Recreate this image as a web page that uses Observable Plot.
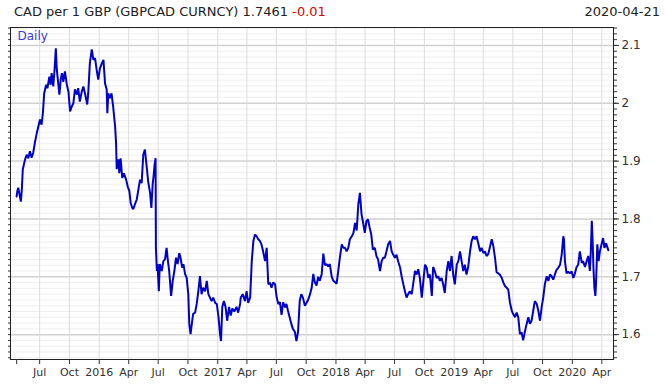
<!DOCTYPE html>
<html><head><meta charset="utf-8">
<script src="https://cdn.jsdelivr.net/npm/d3@7"></script>
<script src="https://cdn.jsdelivr.net/npm/@observablehq/plot@0.6"></script>
<style>
body{margin:0;background:#fff;}
#wrap{position:relative;width:665px;height:385px;font-family:"DejaVu Sans",sans-serif;}
#title{position:absolute;left:14px;top:4px;font-size:13px;color:#222;white-space:nowrap;}
#date{position:absolute;right:5px;top:4px;font-size:13px;color:#222;}
#chart{position:absolute;left:0;top:0;}
</style></head><body>
<div id="wrap"><div id="chart"></div>
<div id="title">CAD per 1 GBP (GBPCAD CURNCY) 1.7461 <span style="color:#e00000">-0.01</span></div>
<div id="date">2020-04-21</div></div>
<script>
const dates = [
"2015-04-21","2015-04-23","2015-04-26","2015-05-04","2015-05-07","2015-05-10","2015-05-17","2015-05-22","2015-05-27","2015-06-01","2015-06-06","2015-06-11","2015-06-17","2015-06-22","2015-06-27",
"2015-07-02","2015-07-07","2015-07-11","2015-07-15","2015-07-21","2015-07-25","2015-07-31","2015-08-04","2015-08-07","2015-08-12","2015-08-16","2015-08-20","2015-08-23","2015-08-31",
"2015-09-04","2015-09-08","2015-09-12","2015-09-17","2015-09-23","2015-09-28","2015-10-03","2015-10-08","2015-10-13","2015-10-18","2015-10-24","2015-10-28",
"2015-11-02","2015-11-08","2015-11-13","2015-11-18","2015-11-25","2015-11-28","2015-12-03","2015-12-09","2015-12-14","2015-12-19","2015-12-24","2015-12-29",
"2016-01-03","2016-01-09","2016-01-14","2016-01-19","2016-01-24","2016-01-26","2016-01-29","2016-02-03","2016-02-08","2016-02-13","2016-02-19","2016-02-22","2016-02-24","2016-02-29",
"2016-03-03","2016-03-07","2016-03-12","2016-03-17","2016-03-24","2016-03-29","2016-04-03","2016-04-07","2016-04-12","2016-04-15","2016-04-20","2016-04-26",
"2016-05-01","2016-05-06","2016-05-11","2016-05-16","2016-05-21","2016-05-27","2016-05-31","2016-06-06","2016-06-10","2016-06-14","2016-06-17","2016-06-20","2016-06-23","2016-06-24","2016-06-27","2016-06-29",
"2016-07-03","2016-07-06","2016-07-12","2016-07-17","2016-07-22","2016-07-27","2016-07-30","2016-08-04","2016-08-10","2016-08-15","2016-08-20","2016-08-25","2016-08-30",
"2016-09-04","2016-09-08","2016-09-13","2016-09-17","2016-09-22","2016-09-27","2016-10-02","2016-10-05","2016-10-09","2016-10-13","2016-10-17","2016-10-23","2016-10-28",
"2016-11-02","2016-11-07","2016-11-12","2016-11-17","2016-11-23","2016-11-28","2016-12-03","2016-12-08","2016-12-13","2016-12-18","2016-12-24","2016-12-29",
"2017-01-03","2017-01-08","2017-01-11","2017-01-15","2017-01-20","2017-01-25","2017-01-30","2017-02-05","2017-02-10","2017-02-15","2017-02-21","2017-02-28",
"2017-03-05","2017-03-11","2017-03-13","2017-03-19","2017-03-26","2017-03-31","2017-04-05","2017-04-11","2017-04-16","2017-04-21","2017-04-26",
"2017-05-01","2017-05-06","2017-05-11","2017-05-16","2017-05-21","2017-05-27","2017-06-01","2017-06-06","2017-06-11","2017-06-16","2017-06-21","2017-06-27",
"2017-07-02","2017-07-07","2017-07-12","2017-07-17","2017-07-22","2017-07-28","2017-08-01","2017-08-06","2017-08-11","2017-08-16","2017-08-21","2017-08-27",
"2017-09-01","2017-09-06","2017-09-11","2017-09-16","2017-09-21","2017-09-27","2017-10-02","2017-10-07","2017-10-13","2017-10-18","2017-10-23","2017-10-28",
"2017-11-02","2017-11-07","2017-11-12","2017-11-18","2017-11-23","2017-11-28","2017-12-03","2017-12-08","2017-12-13","2017-12-19","2017-12-24","2017-12-29",
"2018-01-03","2018-01-08","2018-01-13","2018-01-19","2018-01-24","2018-01-29","2018-02-03","2018-02-08","2018-02-13","2018-02-19","2018-02-24",
"2018-03-01","2018-03-06","2018-03-11","2018-03-16","2018-03-21","2018-03-26","2018-03-31","2018-04-05","2018-04-10","2018-04-15","2018-04-20","2018-04-25",
"2018-05-01","2018-05-06","2018-05-11","2018-05-17","2018-05-22","2018-05-27","2018-06-01","2018-06-06","2018-06-11","2018-06-17","2018-06-22","2018-06-27",
"2018-07-02","2018-07-07","2018-07-12","2018-07-18","2018-07-23","2018-07-28","2018-08-02","2018-08-07","2018-08-12","2018-08-17","2018-08-23","2018-08-28",
"2018-09-02","2018-09-07","2018-09-12","2018-09-17","2018-09-23","2018-09-28","2018-10-03","2018-10-08","2018-10-13","2018-10-18","2018-10-24","2018-10-28",
"2018-11-02","2018-11-08","2018-11-13","2018-11-18","2018-11-23","2018-11-28","2018-12-03","2018-12-09","2018-12-14","2018-12-19","2018-12-24","2018-12-29",
"2019-01-03","2019-01-09","2019-01-14","2019-01-19","2019-01-24","2019-01-29","2019-02-03","2019-02-08","2019-02-13","2019-02-19","2019-02-24",
"2019-03-01","2019-03-06","2019-03-11","2019-03-16","2019-03-22","2019-03-27","2019-04-01","2019-04-06","2019-04-11","2019-04-16","2019-04-21","2019-04-27",
"2019-05-02","2019-05-07","2019-05-12","2019-05-17","2019-05-22","2019-05-28","2019-06-02","2019-06-07","2019-06-12","2019-06-17","2019-06-22","2019-06-28",
"2019-07-02","2019-07-08","2019-07-13","2019-07-18","2019-07-23","2019-07-28","2019-08-02","2019-08-07","2019-08-13","2019-08-18","2019-08-23","2019-08-28",
"2019-09-02","2019-09-07","2019-09-13","2019-09-18","2019-09-23","2019-09-28","2019-10-03","2019-10-08","2019-10-14","2019-10-19","2019-10-24","2019-10-29",
"2019-11-03","2019-11-08","2019-11-13","2019-11-18","2019-11-24","2019-11-29","2019-12-04","2019-12-06","2019-12-09","2019-12-14","2019-12-19","2019-12-24","2019-12-30",
"2020-01-04","2020-01-09","2020-01-14","2020-01-19","2020-01-24","2020-01-30","2020-02-03","2020-02-09","2020-02-14","2020-02-19","2020-02-24","2020-02-27",
"2020-03-01","2020-03-04","2020-03-06","2020-03-09","2020-03-12","2020-03-14","2020-03-18","2020-03-22","2020-03-26","2020-03-31","2020-04-05","2020-04-09","2020-04-14","2020-04-21"
];
const rates = [
1.839,1.848,1.854,1.830,1.851,1.886,1.903,1.911,1.905,1.917,1.906,1.914,1.934,1.948,1.960,
1.972,1.963,1.983,2.017,2.032,2.026,2.046,2.032,2.052,2.029,2.058,2.095,2.058,2.015,
2.041,2.052,2.037,2.055,2.032,2.020,1.986,1.994,2.000,2.024,2.015,2.026,
2.003,2.020,2.029,2.017,1.998,2.017,2.069,2.093,2.075,2.078,2.058,2.041,
2.060,2.069,2.075,2.034,2.024,1.983,2.017,2.009,2.017,1.994,1.960,1.931,1.886,1.903,
1.879,1.905,1.871,1.879,1.868,1.856,1.848,1.828,1.819,1.817,1.825,1.834,
1.851,1.868,1.862,1.911,1.920,1.888,1.865,1.845,1.819,1.860,1.875,1.894,1.905,1.750,1.710,1.722,
1.675,1.722,1.710,1.727,1.730,1.750,1.733,1.710,1.667,1.693,1.710,1.733,1.722,
1.741,1.733,1.716,1.722,1.705,1.698,1.670,1.619,1.601,1.619,1.636,1.638,1.653,
1.675,1.701,1.670,1.681,1.675,1.693,1.670,1.664,1.658,1.664,1.655,1.653,
1.632,1.601,1.589,1.648,1.658,1.648,1.624,1.648,1.633,1.645,1.640,1.648,
1.638,1.653,1.664,1.670,1.658,1.675,1.655,1.664,1.727,1.762,1.773,
1.770,1.765,1.762,1.756,1.744,1.727,1.750,1.687,1.690,1.681,1.690,1.687,
1.664,1.653,1.656,1.634,1.656,1.647,1.653,1.641,1.630,1.619,1.610,1.605,
1.589,1.605,1.658,1.670,1.664,1.650,1.655,1.660,1.670,1.681,1.705,1.690,
1.685,1.700,1.693,1.705,1.740,1.720,1.722,1.718,1.722,1.700,1.693,1.691,
1.688,1.710,1.733,1.756,1.750,1.750,1.744,1.750,1.765,1.770,1.776,
1.793,1.780,1.825,1.845,1.808,1.793,1.776,1.796,1.799,1.785,1.773,1.747,
1.750,1.736,1.730,1.710,1.727,1.733,1.733,1.744,1.756,1.762,1.744,1.738,
1.733,1.738,1.727,1.716,1.700,1.687,1.675,1.664,1.670,1.675,1.670,1.690,
1.710,1.704,1.713,1.698,1.664,1.693,1.721,1.716,1.698,1.704,1.667,1.717,
1.710,1.698,1.701,1.693,1.698,1.687,1.672,1.710,1.727,1.710,1.736,1.704,
1.687,1.721,1.727,1.744,1.727,1.710,1.721,1.704,1.716,1.744,1.762,
1.770,1.765,1.770,1.759,1.744,1.750,1.741,1.744,1.736,1.739,1.750,1.765,
1.753,1.733,1.708,1.706,1.704,1.698,1.690,1.684,1.681,1.678,1.656,1.641,
1.636,1.630,1.638,1.630,1.601,1.604,1.590,1.604,1.619,1.630,1.619,1.624,
1.641,1.658,1.653,1.641,1.624,1.647,1.664,1.687,1.701,1.693,1.704,1.701,
1.695,1.704,1.712,1.715,1.721,1.738,1.770,1.765,1.727,1.706,1.709,1.706,1.709,
1.698,1.706,1.717,1.721,1.744,1.724,1.727,1.717,1.727,1.736,1.710,1.744,
1.797,1.756,1.716,1.681,1.667,1.687,1.756,1.727,1.744,1.756,1.767,1.750,1.758,1.746
];
const xTickDates = ["2015-07-01","2015-10-01","2016-01-01","2016-04-01","2016-07-01","2016-10-01","2017-01-01","2017-04-01","2017-07-01","2017-10-01","2018-01-01","2018-04-01","2018-07-01","2018-10-01","2019-01-01","2019-04-01","2019-07-01","2019-10-01","2020-01-01","2020-04-01"];
const xTickLabels = ["Jul","Oct","2016","Apr","Jul","Oct","2017","Apr","Jul","Oct","2018","Apr","Jul","Oct","2019","Apr","Jul","Oct","2020","Apr"];
const yTicks = [1.6,1.7,1.8,1.9,2.0,2.1];
const yTickLabels = ["1.6","1.7","1.8","1.9","2","2.1"];

const data = dates.map((d,i)=>({date:new Date(d), value:rates[i]}));
const xt = xTickDates.map(d=>new Date(d));
const yMinor = d3.range(156,214).map(v=>v/100);
const chart = Plot.plot({
  width:665, height:385, marginTop:27, marginLeft:10, marginRight:52, marginBottom:26,
  style:{fontFamily:"DejaVu Sans, sans-serif", fontSize:"11px", color:"#333", background:"#fff", overflow:"visible"},
  x:{type:"utc", domain:[new Date("2015-04-02"), new Date("2020-05-07")], label:null},
  y:{domain:[1.557,2.131], label:null},
  marks:[
    Plot.ruleY(yMinor,{stroke:"#efefef"}),
    Plot.ruleY(yTicks,{stroke:"#d2d2d2", strokeWidth:1.5}),
    Plot.ruleX(xt,{stroke:"#dcdcdc"}),
    Plot.line(data,{x:"date", y:"value", stroke:"#0000cc", strokeWidth:2, strokeLinejoin:"miter"}),
    Plot.frame({stroke:"#222"}),
    Plot.axisY(yMinor,{anchor:"right", tickSize:3, tickFormat:()=>"", label:null}),
    Plot.axisY(yTicks,{anchor:"right", tickSize:5, tickPadding:3, fontSize:12, tickFormat:d=>yTickLabels[yTicks.indexOf(d)], label:null}),
    Plot.axisY(yMinor,{anchor:"left", tickSize:2, tickFormat:()=>"", label:null}),
    Plot.axisX([new Date("2015-04-21"), ...xt],{tickSize:5, tickPadding:4, tickFormat:d=>{const i=xt.findIndex(t=>+t===+d); return i<0?"":xTickLabels[i];}, label:null}),
    Plot.text(["Daily"],{frameAnchor:"top-left", dx:7, dy:4, fill:"#3a3ad8", fontSize:12})
  ]
});
document.getElementById("chart").appendChild(chart);
</script>
</body></html>
